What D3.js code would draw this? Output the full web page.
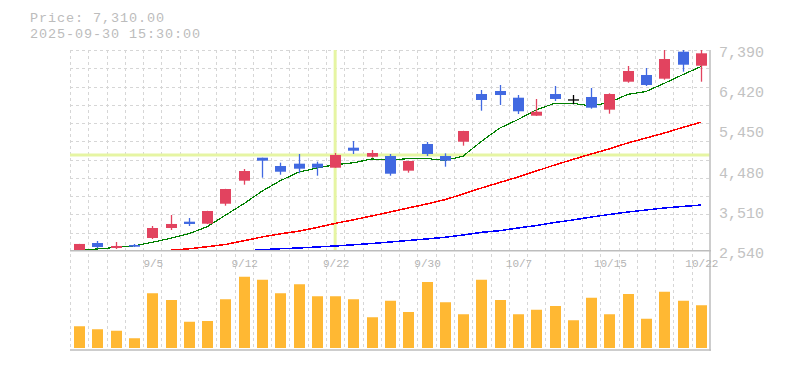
<!DOCTYPE html>
<html>
<head>
<meta charset="utf-8">
<script src="https://cdn.jsdelivr.net/npm/d3@7"></script>
<style>
  html, body { margin: 0; padding: 0; background: #ffffff; }
  svg { display: block; }
</style>
</head>
<body>
<svg id="chart" width="785" height="370"></svg>
<script>
// ---------- data ----------
const dates = ["9/1","9/2","9/3","9/4","9/5","9/8","9/9","9/10","9/11","9/12",
  "9/16","9/17","9/18","9/19","9/22","9/24","9/25","9/26","9/29","9/30",
  "10/1","10/2","10/3","10/6","10/7","10/8","10/9","10/10","10/14","10/15",
  "10/16","10/17","10/20","10/21","10/22"];
const openP  = [2555,2733,2612,2685,2854,3095,3247,3199,3681,4236,
  4791,4591,4647,4647,4550,5033,4815,4832,4478,5122,
  4832,5177,6328,6401,6239,5805,6328,6184,6256,5950,
  6625,6787,6698,7349,7011];
const highP  = [2712,2781,2757,2709,3143,3409,3336,3510,4040,4519,
  4791,4671,4881,4695,4905,5194,4977,4881,4715,5170,
  4897,5440,6425,6546,6304,6208,6521,6304,6473,6345,
  7004,6956,7450,7400,7420];
const lowP   = [2540,2605,2588,2637,2830,3047,3143,3190,3633,4140,
  4309,4381,4415,4357,4550,4881,4791,4357,4430,4832,
  4574,5081,5925,6063,5846,5800,6160,6080,5974,5853,
  6601,6521,6673,6866,6625];
const closeP = [2710,2637,2661,2644,3095,3192,3192,3505,4036,4470,
  4719,4453,4526,4550,4857,4960,4905,4405,4712,4881,
  4719,5436,6184,6304,5911,5901,6208,6184,5998,6328,
  6883,6546,7173,7035,7310];
const ma5  = [2560,2590,2625,2665,2749,2846,2957,3126,3404,3679,
  3984,4237,4441,4544,4621,4669,4760,4735,4768,4773,
  4724,4831,5186,5505,5711,5947,6102,6102,6040,6124,
  6320,6388,6586,6793,6989];
const ma25 = [null,null,null,null,null,2557,2593,2644,2697,2786,
  2878,2955,3018,3107,3206,3293,3385,3481,3578,3674,
  3778,3915,4060,4193,4326,4470,4615,4748,4881,5006,
  5146,5267,5387,5520,5646];
const ma75 = [null,null,null,null,null,null,null,null,null,2535,
  2571,2595,2612,2637,2661,2690,2721,2757,2793,2830,
  2870,2925,2990,3030,3095,3155,3228,3288,3360,3421,
  3481,3529,3578,3614,3650];
const volume = [29,25,23,13,73,64,35,36,65,95,
  91,73,85,69,69,65,41,63,48,88,
  61,45,91,64,45,51,56,37,67,45,
  72,39,75,63,57];
const yTickLabels = [7390, 6420, 5450, 4480, 3510, 2540];
const xTickLabels = ["9/5","9/12","9/22","9/30","10/7","10/15","10/22"];
const crossIndex = 14;
const infoPrice = "Price: 7,310.00";
const infoDate = "2025-09-30 15:30:00";

// ---------- layout ----------
const L = 70, R = 710, T = 50, B = 251;
const VB = 348, VTOP = 273;
const svg = d3.select("#chart");
const mono = "'Liberation Mono','DejaVu Sans Mono',monospace";

const x = d3.scaleBand().domain(d3.range(dates.length)).range([L, R]);
const bw = x.bandwidth();
const cx = i => x(i) + bw / 2;
const y = d3.scaleLinear().domain([2540, 7390]).range([B, T]);
const yv = d3.scaleLinear().domain([0, 100]).range([VB, VTOP]);

// info text
svg.append("text").attr("x", 30).attr("y", 22).text(infoPrice)
  .attr("font-family", mono).attr("font-size", 13.5).attr("letter-spacing", 0.9)
  .attr("fill", "#bcbcbc");
svg.append("text").attr("x", 30).attr("y", 38).text(infoDate)
  .attr("font-family", mono).attr("font-size", 13.5).attr("letter-spacing", 0.9)
  .attr("fill", "#bcbcbc");

// grid
const grid = svg.append("g").attr("stroke", "#d6d6d6").attr("stroke-width", 1)
  .attr("stroke-dasharray", "3,3").attr("shape-rendering", "crispEdges");
grid.selectAll("line.v").data(d3.range(dates.length)).join("line")
  .attr("x1", i => Math.round(x(i)) + 0.5).attr("x2", i => Math.round(x(i)) + 0.5)
  .attr("y1", T).attr("y2", 350);
const hStep = (B - T) / 11;
grid.selectAll("line.h").data(d3.range(11)).join("line")
  .attr("x1", L).attr("x2", R)
  .attr("y1", k => Math.round(T + k * hStep) + 0.5).attr("y2", k => Math.round(T + k * hStep) + 0.5);

// clip for price panel
svg.append("defs").append("clipPath").attr("id", "pclip")
  .append("rect").attr("x", L).attr("y", T).attr("width", R - L).attr("height", B - T);
const pg = svg.append("g").attr("clip-path", "url(#pclip)");

// crosshair
const chColor = "#e6f5a3";
pg.append("line").attr("x1", cx(crossIndex)).attr("x2", cx(crossIndex))
  .attr("y1", T).attr("y2", B).attr("stroke", chColor).attr("stroke-width", 3);
pg.append("line").attr("x1", L).attr("x2", R)
  .attr("y1", y(closeP[crossIndex])).attr("y2", y(closeP[crossIndex]))
  .attr("stroke", chColor).attr("stroke-width", 3);

// moving averages
function maLine(arr, color, w) {
  const line = d3.line().defined(d => d != null).x((d, i) => cx(i)).y(d => y(d));
  pg.append("path").attr("d", line(arr)).attr("fill", "none")
    .attr("stroke", color).attr("stroke-width", w).attr("shape-rendering", "crispEdges");
}
maLine(ma75, "#0000ff", 1.5);
maLine(ma25, "#ff0000", 1.5);
maLine(ma5, "#008000", 1.2);

// candles
const up = "#e2435f", down = "#4169e1", flat = "#000000";
const colorOf = i => closeP[i] > openP[i] ? up : (closeP[i] < openP[i] ? down : flat);
const bodyW = 11;
const cg = pg.append("g");
d3.range(dates.length).forEach(i => {
  const c = colorOf(i);
  const xc = Math.round(cx(i)) + 0.5;
  cg.append("line").attr("x1", xc).attr("x2", xc)
    .attr("y1", y(highP[i])).attr("y2", y(lowP[i]))
    .attr("stroke", c).attr("stroke-width", 1.3);
  const top = y(Math.max(openP[i], closeP[i]));
  const bot = y(Math.min(openP[i], closeP[i]));
  if (bot - top < 0.5) {
    cg.append("line").attr("x1", xc - bodyW / 2).attr("x2", xc + bodyW / 2)
      .attr("y1", top).attr("y2", top).attr("stroke", c).attr("stroke-width", 1.3);
  } else {
    cg.append("rect").attr("x", xc - bodyW / 2).attr("y", top)
      .attr("width", bodyW).attr("height", bot - top).attr("fill", c);
  }
});

// volume bars
svg.append("g").selectAll("rect").data(volume).join("rect")
  .attr("x", (d, i) => Math.round(cx(i)) + 0.5 - bodyW / 2)
  .attr("y", d => yv(d)).attr("width", bodyW).attr("height", d => VB - yv(d))
  .attr("fill", "#ffb833");

// axes lines
const ax = svg.append("g").attr("stroke", "#bdbdbd").attr("stroke-width", 1.5);
ax.append("line").attr("x1", L).attr("x2", R + 1).attr("y1", 250.7).attr("y2", 250.7);
ax.append("line").attr("x1", L).attr("x2", R + 1).attr("y1", 350).attr("y2", 350);
ax.append("line").attr("x1", R).attr("x2", R).attr("y1", T).attr("y2", 350.7);

// y labels
svg.append("g").selectAll("text").data(yTickLabels).join("text")
  .attr("x", 719).attr("y", d => y(d) + 7)
  .text(d => d3.format(",")(d))
  .attr("font-family", mono).attr("font-size", 15).attr("fill", "#c2c2c2");

// x labels
svg.append("g").selectAll("text").data(xTickLabels).join("text")
  .attr("x", d => cx(dates.indexOf(d)) + 1).attr("y", 267)
  .attr("text-anchor", "middle").text(d => d)
  .attr("font-family", mono).attr("font-size", 11).attr("fill", "#b4b4b4");
</script>
</body>
</html>
